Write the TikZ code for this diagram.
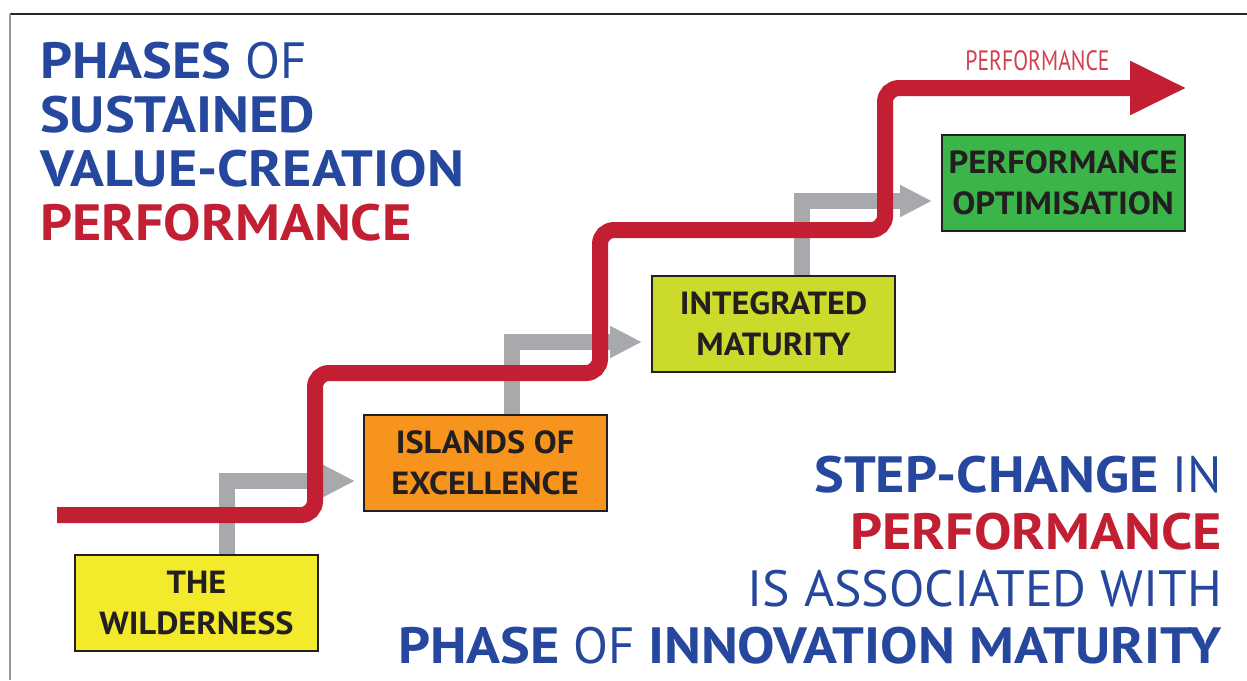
\documentclass[tikz,border=0pt]{standalone}
\usepackage{fontspec}
\setmainfont{PT Sans}
\usepackage{graphicx}
\usetikzlibrary{arrows.meta}
\definecolor{tblue}{HTML}{25479D}
\definecolor{tred}{HTML}{C21F32}
\definecolor{lred}{HTML}{D2404F}
\definecolor{tgrey}{HTML}{A7A9AC}
\definecolor{byellow}{HTML}{F3EA2B}
\definecolor{borange}{HTML}{F7941E}
\definecolor{blime}{HTML}{CCDA2B}
\definecolor{bgreen}{HTML}{3BB54A}
\definecolor{ink}{HTML}{231F20}
\newcommand\xs[2]{\scalebox{#1}[1]{#2}}
\newcommand\bw[1]{\scalebox{1.1}[1]{\bfseries #1}}
\begin{document}
\begin{tikzpicture}[x=1pt,y=-1pt,
  phasebox/.style={draw=ink, line width=2pt, minimum width=243pt, minimum height=96pt,
    inner sep=0pt, align=center, text=ink, font=\fontsize{32}{41}\selectfont\bfseries},
  greylink/.style={draw=tgrey, line width=16pt, -{Triangle[length=32pt,width=30pt]}},
  redpath/.style={draw=tred, line width=16pt, rounded corners=14pt, -{Triangle[length=57pt,width=50pt]}},
  titletext/.style={anchor=base west, inner sep=0pt, text=tblue, font=\fontsize{51}{54}\selectfont},
  notetext/.style={anchor=base east, inner sep=0pt, text=tblue, font=\fontsize{51}{54}\selectfont}
]
\useasboundingbox (0,0) rectangle (1247,680);
\fill[white] (0,0) rectangle (1247,680);
% frame
\draw[draw=black!85, line width=2.5pt] (10,14) -- (1247,14);
\draw[draw=black!40, line width=2.5pt] (10,14) -- (10,680);

% title
\node[titletext] (t1) at (40,78) {\bw{PHASES} OF};
\node[titletext] (t2) at (40,132) {\bw{SUSTAINED}};
\node[titletext] (t3) at (40,186) {\bw{VALUE-CREATION}};
\node[titletext, text=tred] (t4) at (40,240) {\bw{PERFORMANCE}};

% phase boxes
\node[phasebox, fill=byellow] (w) at (196.5,603) {\xs{1.07}{THE}\\\xs{1.07}{WILDERNESS}};
\node[phasebox, fill=borange] (i) at (485,462.5) {\xs{1.07}{ISLANDS OF}\\\xs{1.07}{EXCELLENCE}};
\node[phasebox, fill=blime] (m) at (773.5,323.5) {\xs{1.07}{INTEGRATED}\\\xs{1.07}{MATURITY}};
\node[phasebox, fill=bgreen] (p) at (1063,183) {\xs{1.08}{PERFORMANCE}\\\xs{1.08}{OPTIMISATION}};

% grey links
\coordinate (ga) at (355,481);
\coordinate (gb) at (642,342);
\coordinate (gc) at (932,201);
\draw[greylink] ([xshift=30.5pt]w.north) |- (ga);
\draw[greylink] ([xshift=27pt]i.north) |- (gb);
\draw[greylink] ([xshift=28.5pt]m.north) |- (gc);

% red performance path
\coordinate (r0) at (57,515);
\coordinate (r1) at (1187,88);
\draw[redpath] (r0) -- (315,515) -- (315,373) -- (600,373) -- (600,230) -- (885,230) -- (885,88) -- (r1);
\node[anchor=base, inner sep=0pt, text=lred, font=\fontsize{28}{30}\selectfont] (lab) at (1037.5,70) {\xs{0.775}{PERFORMANCE}};

% bottom-right statement
\node[notetext] (b1) at (1222,492) {\bw{STEP-CHANGE} IN};
\node[notetext, text=tred] (b2) at (1222,549) {\bw{PERFORMANCE}};
\node[notetext] (b3) at (1222,606) {\xs{1.015}{IS ASSOCIATED WITH}};
\node[notetext] (b4) at (1222,663) {\bw{PHASE} OF \bw{INNOVATION MATURITY}};
\end{tikzpicture}
\end{document}
